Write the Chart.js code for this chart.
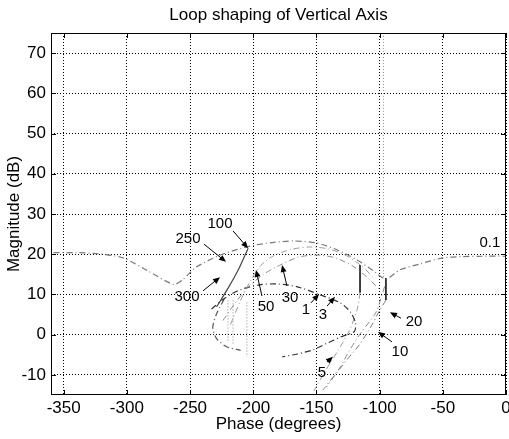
<!DOCTYPE html>
<html>
<head>
<meta charset="utf-8">
<title>Loop shaping of Vertical Axis</title>
<script src="https://cdn.jsdelivr.net/npm/chart.js@4.4.1/dist/chart.umd.min.js"></script>
<style>
  html, body { margin: 0; padding: 0; background: #fff; }
  #nichols { display: block; }
</style>
</head>
<body>
<canvas id="nichols" width="509" height="439"></canvas>
<script>
// axis ticks
let phaseTicks = [-350, -300, -250, -200, -150, -100, -50, 0];
let magTicks = [-10, 0, 10, 20, 30, 40, 50, 60, 70];

// outer open-loop branch (0.1 at the right end)
let outerPhase = [-358, -340, -322, -303, -283, -263, -256, -245, -226, -210, -198, -185, -168, -150, -133, -118, -105, -95, -84, -68, -50, -36, -18, 0];
let outerMag = [20.4, 20.4, 20.1, 19.1, 15.8, 12.5, 13.6, 16.8, 19.8, 21.4, 22.3, 22.9, 23.3, 22.8, 21.0, 18.6, 15.9, 13.8, 16.1, 17.6, 19.1, 19.4, 19.5, 19.5];

// inner arcs
let arc30Phase = [-224, -214, -204, -192, -178, -164, -150, -136, -122, -110, -100];
let arc30Mag = [3.5, 8, 11.8, 15, 17.4, 19.3, 19.8, 19.2, 17.2, 14.3, 11.2];
let arc50Phase = [-218, -210, -202, -194, -184, -170, -155, -140, -126, -114, -104];
let arc50Mag = [2.5, 8.5, 13.5, 17.2, 19.6, 21.2, 21.8, 21.3, 19.6, 17, 14];
let arc1Phase = [-233, -222, -210, -195, -180, -165, -147, -131, -123, -119, -120, -131, -142, -153, -165, -177];
let arc1Mag = [6.4, 9.2, 11.2, 12.4, 12.6, 11.9, 9.9, 7.9, 5.6, 2.8, 0.8, -0.6, -2.2, -3.8, -4.8, -5.5];

// left loop
let leftLinePhase = [-229, -220, -212, -204];
let leftLineMag = [6.9, 11.5, 16, 21.5];
let leftLoopPhase = [-223, -229, -232, -229, -221, -210];
let leftLoopMag = [8.8, 5.2, 1.8, -1, -3, -3.9];

// right side, falling branches
let fall20Phase = [-95, -100, -107, -116, -126, -134, -142];
let fall20Mag = [8.6, 6, 1.9, -2.5, -6.3, -9.5, -13];
let fall10Phase = [-96, -103, -115, -124, -131, -138, -145];
let fall10Mag = [12, 5.5, 0.4, -4, -8, -11, -13.8];
let fall5Phase = [-115.5, -118, -124, -133, -143, -152];
let fall5Mag = [10.4, 6, 1, -4, -9, -14];

// solid jumps
let jumpAPhase = [-115.5, -115.5];
let jumpAMag = [17.3, 10.4];
let jumpBPhase = [-95, -95];
let jumpBMag = [14.1, 8.6];

// dotted verticals
let vertPhase = [-97, -220, -216, -205];
let vertTop = [75, 8.5, 8.5, 8];
let vertBottom = [14, -1.5, -2.5, -5.5];

// frequency labels: text, label position, arrow tail, arrow tip
let freqLabels = [
  { text: '0.1', at: [-12.7, 22.8] },
  { text: '100', at: [-226.3, 27.5], from: [-216, 25.8], to: [-204.1, 21.5] },
  { text: '250', at: [-251.6, 23.8], from: [-239, 22.5], to: [-221.5, 18.1] },
  { text: '300', at: [-252.4, 9.4], from: [-239.7, 10.9], to: [-226.3, 14.3] },
  { text: '50', at: [-189.9, 6.9], from: [-193.1, 9.6], to: [-197.8, 16.1] },
  { text: '30', at: [-170.9, 9.1], from: [-173.3, 12.1], to: [-177.2, 17.3] },
  { text: '1', at: [-158.3, 6.1], from: [-154.3, 7.9], to: [-147.9, 10.1] },
  { text: '3', at: [-144.8, 4.9], from: [-141.6, 7.1], to: [-135.3, 9.4] },
  { text: '20', at: [-72.8, 3.2], from: [-83.1, 4.1], to: [-91.8, 5.6] },
  { text: '10', at: [-83.9, -4.3], from: [-90.2, -1.8], to: [-101.3, 0.7] },
  { text: '5', at: [-145.6, -9.5], from: [-141.6, -6.8], to: [-136.9, -5.5] }
];

function toPoints(ph, mg) {
  return ph.map((p, i) => ({ x: p, y: mg[i] }));
}

function curve(ph, mg, color, dash, width) {
  return {
    data: toPoints(ph, mg),
    showLine: true,
    borderColor: color,
    borderWidth: width || 1,
    borderDash: dash,
    pointRadius: 0,
    tension: 0.25,
    fill: false
  };
}

let dashDot = [6, 3, 1, 3];
let datasets = [
  curve(outerPhase, outerMag, '#7a7a7a', dashDot, 1.2),
  curve(arc30Phase, arc30Mag, '#8c8c8c', dashDot),
  curve(arc50Phase, arc50Mag, '#9a9a9a', dashDot),
  curve(arc1Phase, arc1Mag, '#333', dashDot, 1.2),
  curve(leftLinePhase, leftLineMag, '#444', [], 1.2),
  curve(leftLoopPhase, leftLoopMag, '#555', dashDot, 1.2),
  curve(fall20Phase, fall20Mag, '#777', dashDot),
  curve(fall10Phase, fall10Mag, '#888', dashDot),
  curve(fall5Phase, fall5Mag, '#999', dashDot),
  curve(jumpAPhase, jumpAMag, '#111', [], 1.6),
  curve(jumpBPhase, jumpBMag, '#111', [], 1.6)
];
vertPhase.forEach((p, i) => {
  datasets.push(curve([p, p], [vertTop[i], vertBottom[i]], '#888', [1, 2]));
});

// full box with inward ticks on all sides
const boxPlugin = {
  id: 'box',
  afterDraw(chart) {
    const { ctx, chartArea: a, scales } = chart;
    ctx.save();
    ctx.strokeStyle = '#000';
    ctx.lineWidth = 1;
    ctx.strokeRect(a.left + 0.5, a.top + 0.5, a.right - a.left - 1, a.bottom - a.top - 1);
    ctx.beginPath();
    phaseTicks.forEach(v => {
      const x = Math.round(scales.x.getPixelForValue(v)) + 0.5;
      ctx.moveTo(x, a.bottom); ctx.lineTo(x, a.bottom - 5);
      ctx.moveTo(x, a.top); ctx.lineTo(x, a.top + 5);
    });
    magTicks.forEach(v => {
      const y = Math.round(scales.y.getPixelForValue(v)) + 0.5;
      ctx.moveTo(a.left, y); ctx.lineTo(a.left + 5, y);
      ctx.moveTo(a.right, y); ctx.lineTo(a.right - 5, y);
    });
    ctx.stroke();
    ctx.restore();
  }
};

// frequency labels with arrows
const labelPlugin = {
  id: 'freqLabels',
  afterDatasetsDraw(chart) {
    const { ctx, scales } = chart;
    const px = p => [scales.x.getPixelForValue(p[0]), scales.y.getPixelForValue(p[1])];
    ctx.save();
    ctx.font = "15px 'Liberation Sans', Arial, sans-serif";
    ctx.fillStyle = '#000';
    ctx.strokeStyle = '#000';
    ctx.textAlign = 'center';
    ctx.textBaseline = 'middle';
    freqLabels.forEach(l => {
      const [tx, ty] = px(l.at);
      ctx.fillText(l.text, tx, ty);
      if (!l.to) return;
      const [x0, y0] = px(l.from);
      const [x1, y1] = px(l.to);
      const ang = Math.atan2(y1 - y0, x1 - x0);
      ctx.lineWidth = 1;
      ctx.beginPath();
      ctx.moveTo(x0, y0);
      ctx.lineTo(x1 - 5 * Math.cos(ang), y1 - 5 * Math.sin(ang));
      ctx.stroke();
      ctx.beginPath();
      ctx.moveTo(x1, y1);
      ctx.lineTo(x1 - 7 * Math.cos(ang) + 3 * Math.sin(ang), y1 - 7 * Math.sin(ang) - 3 * Math.cos(ang));
      ctx.lineTo(x1 - 7 * Math.cos(ang) - 3 * Math.sin(ang), y1 - 7 * Math.sin(ang) + 3 * Math.cos(ang));
      ctx.closePath();
      ctx.fill();
    });
    ctx.restore();
  }
};

Chart.defaults.font.family = "'Liberation Sans', Arial, sans-serif";
Chart.defaults.color = '#000';

let ctx = document.getElementById('nichols').getContext('2d');

let chart = new Chart(ctx, {
  type: 'scatter',
  data: { datasets: datasets },
  options: {
    responsive: false,
    animation: false,
    layout: { padding: { right: 3 } },
    plugins: {
      legend: { display: false },
      tooltip: { enabled: false },
      title: {
        display: true,
        fullSize: false,
        text: 'Loop shaping of Vertical Axis',
        color: '#000',
        font: { size: 17, weight: 'normal', lineHeight: 1.2 },
        padding: { top: 5, bottom: 7.6 }
      }
    },
    scales: {
      x: {
        type: 'linear',
        min: -360,
        max: 0,
        afterBuildTicks: s => { s.ticks = phaseTicks.map(v => ({ value: v })); },
        afterFit: s => { s.height = 44; s.paddingLeft = 0; s.paddingRight = 0; },
        grid: { color: '#000', lineWidth: 1, drawTicks: false },
        border: { display: false, dash: [1, 2] },
        ticks: { padding: 3, color: '#000', font: { size: 17 }, maxRotation: 0, autoSkip: false },
        title: { display: true, text: 'Phase (degrees)', color: '#000', font: { size: 17 }, padding: { top: 0, bottom: 4 } }
      },
      y: {
        type: 'linear',
        min: -15,
        max: 75,
        afterBuildTicks: s => { s.ticks = magTicks.map(v => ({ value: v })); },
        afterFit: s => { s.width = 51; s.paddingTop = 0; s.paddingBottom = 0; },
        grid: { color: '#000', lineWidth: 1, drawTicks: false },
        border: { display: false, dash: [1, 2] },
        ticks: { padding: 5, color: '#000', font: { size: 17 }, autoSkip: false },
        title: { display: true, text: 'Magnitude (dB)', color: '#000', font: { size: 17 }, padding: { top: 4, bottom: 0 } }
      }
    }
  },
  plugins: [boxPlugin, labelPlugin]
});
</script>
</body>
</html>
